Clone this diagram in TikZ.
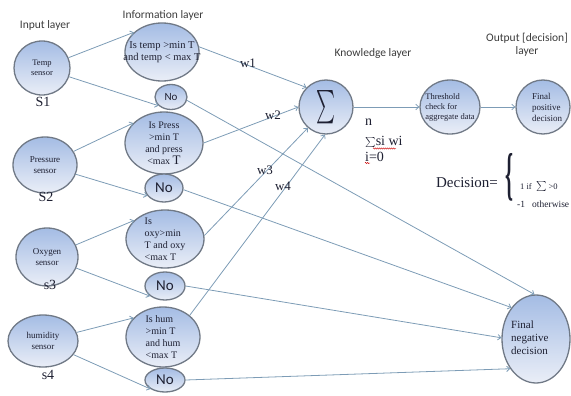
\documentclass[tikz,border=0pt]{standalone}
\usepackage{fontspec}
\setmainfont{Liberation Serif}
\newfontfamily\labelfont{Carlito}
\usetikzlibrary{shapes.geometric,arrows.meta,decorations.pathmorphing}

\definecolor{edgeblue}{RGB}{125,156,182}
\definecolor{rimgray}{RGB}{112,121,134}
\definecolor{fillblue}{RGB}{164,188,228}
\definecolor{filllight}{RGB}{234,238,247}
\definecolor{inktext}{RGB}{30,32,50}
\definecolor{titlegray}{RGB}{60,60,60}

\begin{document}
\begin{tikzpicture}[x=1pt,y=-1pt,
  bubble/.style={ellipse, draw=rimgray, line width=1.3pt,
    top color=fillblue, bottom color=filllight, inner sep=0pt},
  intext/.style={text=inktext, inner sep=0pt, font=\fontsize{10}{12}\selectfont},
  sentext/.style={text=inktext, inner sep=0pt, align=center, font=\fontsize{9}{11}\selectfont},
  notext/.style={text=inktext, inner sep=0pt, font=\labelfont\fontsize{15}{15}\selectfont},
  link/.style={draw=edgeblue, line width=0.8pt,
    -{Straight Barb[length=3pt,width=5.5pt]}},
  layer/.style={font=\labelfont\fontsize{11.5}{13}\selectfont, text=titlegray, align=center},
  tag/.style={font=\fontsize{14}{14}\selectfont, text=inktext},
  weight/.style={font=\fontsize{13}{13}\selectfont, text=inktext},
  formula/.style={anchor=base west, inner sep=0pt, text=inktext, font=\fontsize{14}{14}\selectfont},
  spell/.style={draw=red!80!black, line width=0.45pt,
    decorate, decoration={snake, amplitude=0.6pt, segment length=2pt}}
]
\useasboundingbox (0,0) rectangle (571,396);

% layer titles
\node[layer] (tin)  at (45,25)  {Input layer};
\node[layer] (tinf) at (163,15) {Information layer};
\node[layer] (tkn)  at (373,53) {Knowledge layer};
\node[layer] (tout) at (527,45) {Output [decision]\\layer};

% sensors
\node[bubble, minimum width=56pt, minimum height=54pt,
  label={[sentext, font=\fontsize{8.5}{10.5}\selectfont]center:Temp\\sensor}] (temp) at (42,68) {};
\node[bubble, minimum width=64pt, minimum height=56pt,
  label={[sentext]center:Pressure\\sensor}] (press) at (45,165) {};
\node[bubble, minimum width=62pt, minimum height=58pt,
  label={[sentext]center:Oxygen\\sensor}] (oxy) at (47,257) {};
\node[bubble, minimum width=70pt, minimum height=52pt,
  label={[sentext]center:humidity\\sensor}] (hum) at (43,341) {};

\node[tag] (s1) at (43,102) {S1};
\node[tag] (s2) at (46,197) {S2};
\node[tag] (s3) at (50,285) {s3};
\node[tag] (s4) at (48,375) {s4};

% information layer
\node[bubble, minimum width=74pt, minimum height=58pt,
  label={[intext, align=center, font=\fontsize{10.5}{12.5}\selectfont]center:Is temp >min T\\and temp < max T}] (info1) at (162,52) {};
\node[bubble, minimum width=32pt, minimum height=25pt,
  label={[notext, font=\labelfont\fontsize{11}{11}\selectfont]center:No}] (no1) at (171,97) {};
\node[bubble, minimum width=78pt, minimum height=62pt,
  label={[intext, align=center]center:Is Press\\>min T\\and press\\<max {\fontsize{13}{12}\selectfont T}}] (info2) at (164,143) {};
\node[bubble, minimum width=38pt, minimum height=28pt,
  label={[notext]center:No}] (no2) at (164,188) {};
\node[bubble, minimum width=78pt, minimum height=58pt,
  label={[intext, align=left]center:Is\\oxy>min\\T and oxy\\<max T}] (info3) at (165,239) {};
\node[bubble, minimum width=40pt, minimum height=28pt,
  label={[notext]center:No}] (no3) at (165,286) {};
\node[bubble, minimum width=74pt, minimum height=60pt,
  label={[intext, align=left]center:Is hum\\>min T\\and hum\\<max T}] (info4) at (163,337) {};
\node[bubble, minimum width=40pt, minimum height=24pt,
  label={[notext]center:No}] (no4) at (165,380) {};

% knowledge and output layers
\node[bubble, minimum width=54pt, minimum height=54pt,
  label={[text=inktext, inner sep=0pt]center:\resizebox{19pt}{25pt}{$\sum$}}] (sigma) at (326,107) {};
\node[bubble, minimum width=60pt, minimum height=54pt,
  label={[intext, align=left, font=\fontsize{8.5}{10}\selectfont]center:Threshold\\check for\\aggregate data}] (thr) at (450,107) {};
\node[bubble, minimum width=54pt, minimum height=54pt] (pos) at (543,107) {};
\node[intext, anchor=west, align=left, font=\fontsize{9}{11}\selectfont] (postext) at (532,107)
  {Final\\positive\\decision};
\node[bubble, minimum width=68pt, minimum height=88pt] (neg) at (536,339) {};
\node[intext, anchor=west, align=left, font=\fontsize{11}{13}\selectfont] (negtext) at (511,338)
  {Final\\negative\\decision};

% sensor readings into the checks
\draw[link] (temp)  -- (info1.145);
\draw[link] (temp)  -- (no1.215);
\draw[link] (press) -- (info2.147);
\draw[link] (press) -- (no2.205);
\draw[link] (oxy)   -- (info3.149);
\draw[link] (oxy)   -- (no3.214);
\draw[link] (hum)   -- (info4.147);
\draw[link] (hum)   -- (no4.212);

% weighted inputs to the summation
\draw[link] (info1.8)  -- (sigma.135);
\draw[link] (info2.0)  -- (sigma.180);
\draw[link] (info3.5)  -- (sigma.229);
\draw[link] (info4.39) -- (sigma.268);
\node[weight] (w1) at (248,63)  {w1};
\node[weight] (w2) at (273,115) {w2};
\node[weight] (w3) at (265,170) {w3};
\node[weight] (w4) at (283,186) {w4};

\draw[link] (sigma) -- (thr);
\draw[link] (thr)   -- (pos);

% failed checks go straight to the negative decision
\draw[link] (no1.-12) -- (neg.92);
\draw[link] (no2.-5)  -- (neg.128);
\draw[link] (no3.0)   -- (neg.178);
\draw[link] (no4.0)   -- (neg.229);

% aggregate formula
\node[formula] (fn)  at (365,125) {n};
\node[formula] (fsw) at (365,146) {$\sum$si wi};
\node[formula] (fi)  at (365,161) {i=0};
\coordinate (sq1a) at (373,148.5);
\coordinate (sq1b) at (396,148.5);
\coordinate (sq2a) at (365,163);
\coordinate (sq2b) at (370,163);
\draw[spell] (sq1a) -- (sq1b);
\draw[spell] (sq2a) -- (sq2b);

% decision rule
\node[inner sep=0pt, text=inktext, font=\fontsize{15}{15}\selectfont] (dec) at (467,183) {Decision=};
\node[inner sep=0pt, text=inktext] (brace) at (509,177)
  {\resizebox{8pt}{40pt}{\bfseries\{}};
\node[anchor=west, inner sep=0pt, text=inktext, font=\fontsize{8.5}{9}\selectfont] (ifpos) at (520,187) {1 if \ $\sum$ >0};
\node[anchor=west, inner sep=0pt, text=inktext, font=\fontsize{9.5}{10}\selectfont] (other) at (517,204) {-1 \ \ otherwise};
\end{tikzpicture}
\end{document}
